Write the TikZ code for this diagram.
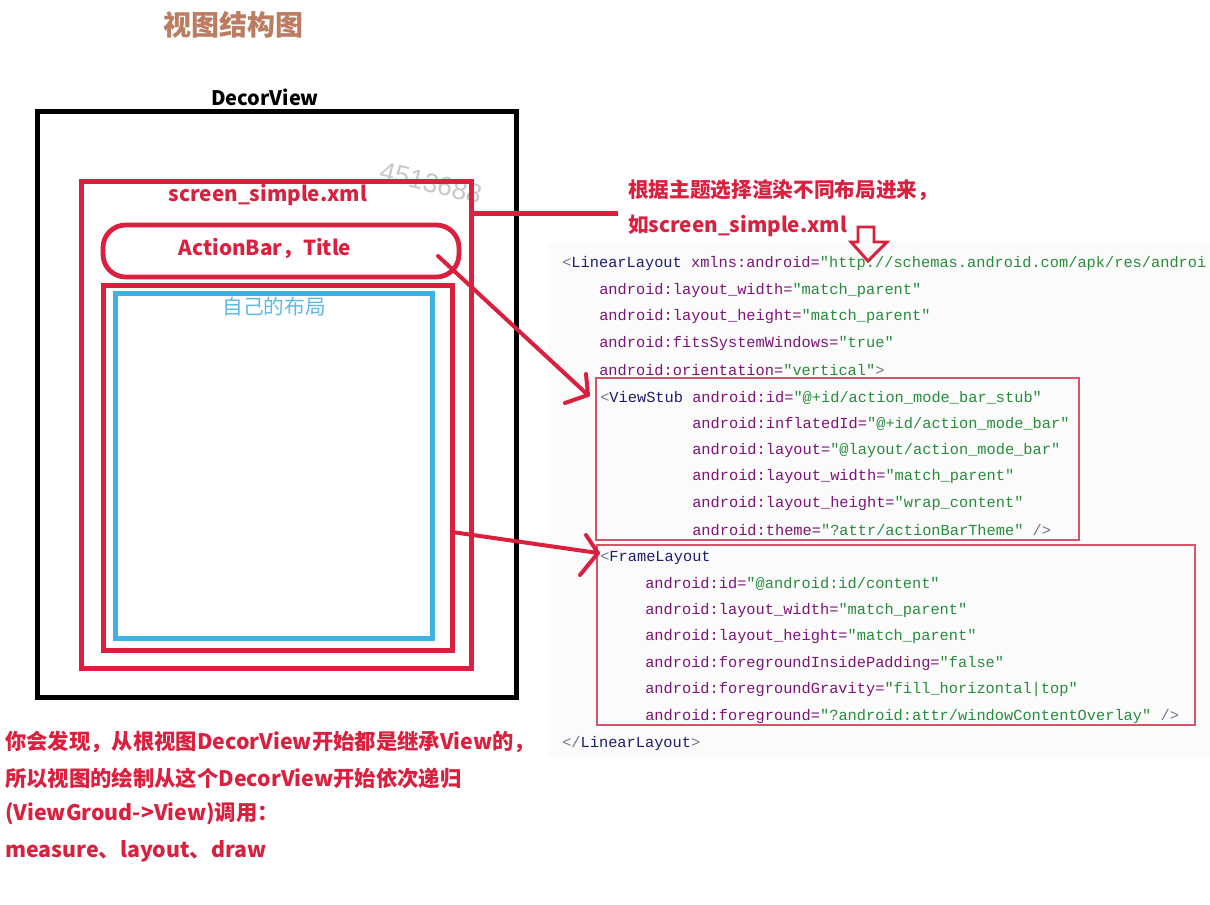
\documentclass[tikz,border=0pt]{standalone}
\usepackage{fontspec}
\usetikzlibrary{fit,calc}
\newfontfamily\cjk{Noto Sans CJK SC}
\newfontfamily\codefont{Liberation Mono}
\newfontfamily\wmfont{Liberation Sans}
\definecolor{myred}{RGB}{218,32,62}
\definecolor{boxred}{RGB}{214,84,104}
\definecolor{myblue}{RGB}{62,178,226}
\definecolor{lblblue}{RGB}{96,184,230}
\definecolor{titlebrown}{RGB}{188,124,98}
\definecolor{tagc}{RGB}{28,30,110}
\definecolor{attrc}{RGB}{125,20,120}
\definecolor{valc}{RGB}{40,140,60}
\definecolor{brc}{RGB}{110,120,140}
\definecolor{codebg}{RGB}{251,251,251}
\newcommand\ctag[1]{\textcolor{tagc}{#1}}
\newcommand\cattr[1]{\textcolor{attrc}{#1}}
\newcommand\cval[1]{\textcolor{valc}{#1}}
\newcommand\cbr[1]{\textcolor{brc}{#1}}
\tikzset{
  frame/.style={draw, inner sep=0pt, line width=3.75pt},
  codebox/.style={draw=boxred, line width=0.8pt, inner sep=0pt},
  lbl/.style={font=\cjk\bfseries\fontsize{15.5}{18}\selectfont, text=myred, inner sep=0pt},
  botlbl/.style={lbl, anchor=west, font=\cjk\bfseries\fontsize{16}{18}\selectfont},
  codeline/.style={anchor=west, inner sep=0pt, yshift=-1.2pt, font=\codefont\fontsize{11.5}{13}\selectfont, text=attrc},
  redarrow/.style={draw=myred, line width=3pt, line cap=round, line join=round}
}
\begin{document}
\begin{tikzpicture}[x=0.75pt,y=-0.75pt]
\useasboundingbox (0,0) rectangle (1210,904);
\fill[white] (0,0) rectangle (1210,904);

% code background
\fill[codebg] (548,243) rectangle (1210,757);

% title
\node[font=\cjk\bfseries\fontsize{21}{24}\selectfont, text=titlebrown, inner sep=0pt] (title) at (233,25) {视图结构图};

% watermark
\node[font=\wmfont\fontsize{20}{22}\selectfont, text=black!22, rotate=-14, inner sep=0pt] (wm) at (431,183) {4513688};

% DecorView
\node[font=\cjk\bfseries\fontsize{15}{18}\selectfont, inner sep=0pt] (dvlabel) at (265,97) {DecorView};
\node[frame, draw=black, fit={(37,111) (516,697)}] (decor) {};

% screen_simple
\node[frame, draw=myred, fit={(81,181) (471,668)}] (ss) {};
\node[lbl] (sslabel) at (268,195) {screen\_simple.xml};

% ActionBar
\node[frame, draw=myred, line width=3.6pt, rounded corners=17pt, fit={(103,225) (459,277)}] (ab) {};
\node[lbl] (ablabel) at (265,249) {ActionBar，Title};

% content frame
\node[frame, draw=myred, fit={(103,285) (452,650)}] (content) {};
\node[frame, draw=myblue, fit={(115,293) (432,638)}] (own) {};
\node[font=\cjk\fontsize{15.5}{18}\selectfont, text=lblblue, inner sep=0pt] (ownlabel) at (274,307) {自己的布局};

% connector to annotation
\coordinate (lineend) at (618,213);
\draw[myred, line width=3.75pt] (ss.east |- lineend) -- (lineend);
\node[lbl, anchor=west] (note1) at (628,190) {根据主题选择渲染不同布局进来，};
\node[lbl, anchor=west] (note2) at (628,226) {如screen\_simple.xml};

% hollow down arrow
\draw[myred, line width=2.2pt, line join=miter]
  (858,227) -- (874,227) -- (874,242) -- (887,242) -- (868,261) -- (851,242) -- (858,242) -- cycle;

% code boxes
\node[codebox, fit={(596,378) (1079,540)}] (vsbox) {};
\node[codebox, fit={(597,545) (1195,725)}] (flbox) {};

% code lines
\node[codeline] (l0) at (562,262) {\cbr{<}\ctag{LinearLayout} \cattr{xmlns:android=}\cval{"http://schemas.android.com/apk/res/androi}};
\node[codeline] (l1) at (599,289) {\cattr{android:layout\_width=}\cval{"match\_parent"}};
\node[codeline] (l2) at (599,315) {\cattr{android:layout\_height=}\cval{"match\_parent"}};
\node[codeline] (l3) at (599,342) {\cattr{android:fitsSystemWindows=}\cval{"true"}};
\node[codeline] (l4) at (599,368) {\cattr{android:orientation=}\cval{"vertical"}\cbr{>}};
\node[codeline] (l5) at (600,396) {\cbr{<}\ctag{ViewStub} \cattr{android:id=}\cval{"@+id/action\_mode\_bar\_stub"}};
\node[codeline] (l6) at (692,422) {\cattr{android:inflatedId=}\cval{"@+id/action\_mode\_bar"}};
\node[codeline] (l7) at (692,449) {\cattr{android:layout=}\cval{"@layout/action\_mode\_bar"}};
\node[codeline] (l8) at (692,475) {\cattr{android:layout\_width=}\cval{"match\_parent"}};
\node[codeline] (l9) at (692,502) {\cattr{android:layout\_height=}\cval{"wrap\_content"}};
\node[codeline] (l10) at (692,528) {\cattr{android:theme=}\cval{"?attr/actionBarTheme"} \cbr{/>}};
\node[codeline] (l11) at (600,556) {\cbr{<}\ctag{FrameLayout}};
\node[codeline] (l12) at (645,582) {\cattr{android:id=}\cval{"@android:id/content"}};
\node[codeline] (l13) at (645,609) {\cattr{android:layout\_width=}\cval{"match\_parent"}};
\node[codeline] (l14) at (645,635) {\cattr{android:layout\_height=}\cval{"match\_parent"}};
\node[codeline] (l15) at (645,662) {\cattr{android:foregroundInsidePadding=}\cval{"false"}};
\node[codeline] (l16) at (645,688) {\cattr{android:foregroundGravity=}\cval{"fill\_horizontal|top"}};
\node[codeline] (l17) at (645,715) {\cattr{android:foreground=}\cval{"?android:attr/windowContentOverlay"} \cbr{/>}};
\node[codeline] (l18) at (562,742) {\cbr{</}\ctag{LinearLayout}\cbr{>}};

% arrow ActionBar -> ViewStub
\coordinate (a1s) at (438,256);
\coordinate (a1t) at (588,395);
\coordinate (a1h1) at (586,374);
\coordinate (a1h2) at (565,403);
\draw[redarrow] (a1s) -- (a1t);
\draw[redarrow] (a1h1) -- (a1t) -- (a1h2);

% arrow content -> FrameLayout
\coordinate (a2s) at (452,532);
\coordinate (a2t) at (598,553);
\coordinate (a2h1) at (586,535);
\coordinate (a2h2) at (580,575);
\draw[redarrow] (a2s) -- (a2t);
\draw[redarrow] (a2h1) -- (a2t) -- (a2h2);

% bottom explanation
\node[botlbl] (b1) at (5,742) {你会发现，从根视图DecorView开始都是继承View的，};
\node[botlbl] (b2) at (5,778) {所以视图的绘制从这个DecorView开始依次递归};
\node[botlbl] (b3) at (5,814) {(ViewGroud->View)调用：};
\node[botlbl] (b4) at (5,851) {measure、layout、draw};
\end{tikzpicture}
\end{document}
